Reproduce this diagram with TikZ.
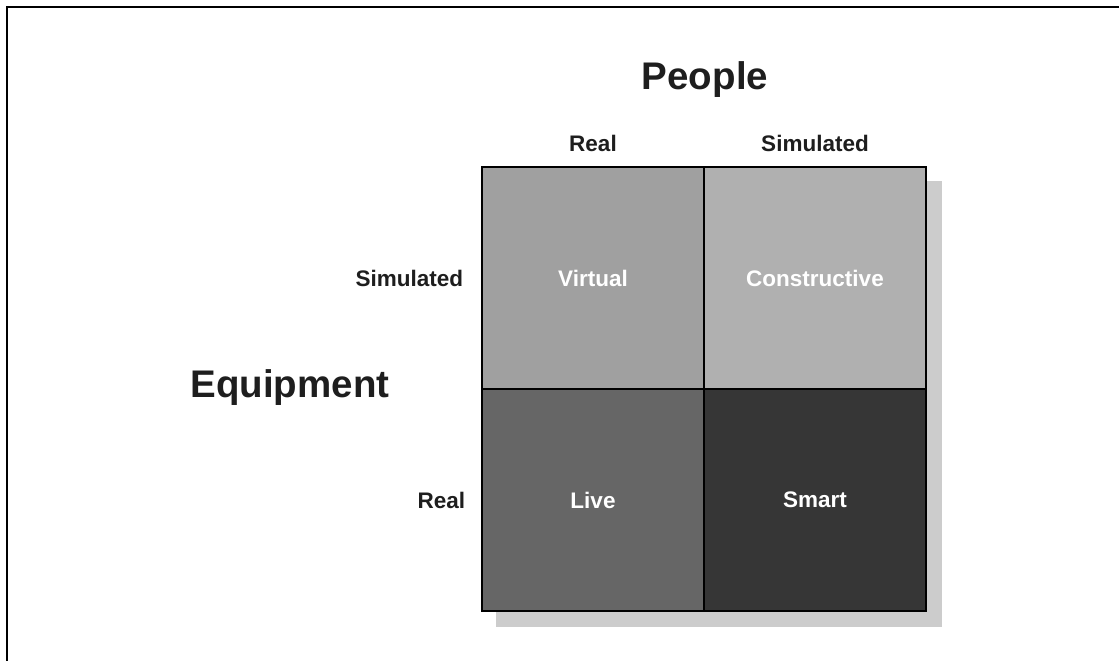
\documentclass[tikz,border=0pt]{standalone}
\usepackage{fontspec}
\setmainfont{Liberation Sans}
\usetikzlibrary{matrix,positioning,backgrounds}
\definecolor{shadowgray}{HTML}{CCCCCC}
\definecolor{virtgray}{HTML}{A0A0A0}
\definecolor{consgray}{HTML}{B0B0B0}
\definecolor{livegray}{HTML}{666666}
\definecolor{smartgray}{HTML}{363636}
\definecolor{inkgray}{HTML}{1E1E1E}

\begin{document}
\begin{tikzpicture}[x=1pt,y=-1pt,
    cell/.style={draw=black, line width=1.2pt, minimum width=222pt, minimum height=222pt,
                 text=white, font=\fontsize{22.5}{27}\selectfont\bfseries},
    lbl/.style={inner sep=0pt, text=inkgray, font=\fontsize{22.5}{27}\selectfont\bfseries},
    big/.style={inner sep=0pt, text=inkgray, font=\fontsize{38.5}{46}\selectfont\bfseries}]
    \useasboundingbox (0,0) rectangle (1119,661);

    % Cornice
    \draw[line width=2.6pt] (7,661) -- (7,7) -- (1119,7);

    % Matrice delle quattro classi
    \matrix (m) [matrix of nodes,
                  nodes={cell, anchor=center},
                  inner sep=0pt,
                  column sep=-1.2pt, row sep=-1.2pt] at (704,389)
    {
        |[fill=virtgray]| Virtual & |[fill=consgray]| Constructive \\
        |[fill=livegray]| Live    & |[fill=smartgray]| Smart \\
    };

    % Ombra dietro la matrice
    \begin{scope}[on background layer]
        \fill[shadowgray] ([shift={(15,15)}]m.south west) rectangle ([shift={(15,15)}]m.north east);
    \end{scope}

    % Etichette delle colonne
    \node[lbl, above=14pt of m-1-1] (preal) {Real};
    \node[lbl, above=14pt of m-1-2] (psim) {Simulated};
    \node[big, anchor=base] (people) at (705,89) {People};

    % Etichette delle righe
    \node[lbl, left=18pt of m-1-1] (esim) {Simulated};
    \node[lbl, left=16pt of m-2-1] (ereal) {Real};
    \node[big, anchor=base] (equip) at (290,397) {Equipment};

\end{tikzpicture}
\end{document}
